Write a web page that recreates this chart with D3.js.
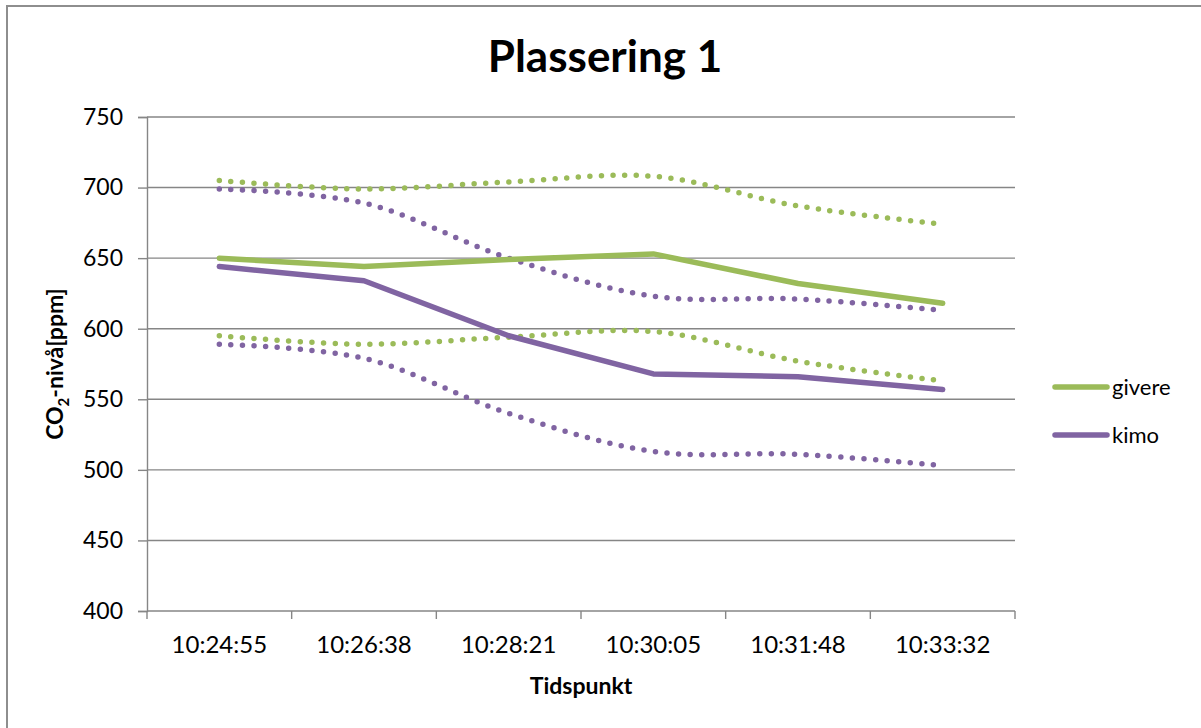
<!DOCTYPE html>
<html>
<head>
<meta charset="utf-8">
<script src="https://cdn.jsdelivr.net/npm/d3@7"></script>
<style>
  html, body { margin: 0; padding: 0; background: #fff; }
  svg { display: block; font-family: Lato, "Open Sans", sans-serif; }
</style>
</head>
<body>
<svg id="chart" width="1201" height="728"></svg>
<script>
// Measurement times
const categories = ["10:24:55", "10:26:38", "10:28:21", "10:30:05", "10:31:48", "10:33:32"];

// CO2 readings (ppm)
const givere = [650, 644, 649, 653, 632, 618];
const kimo   = [644, 634, 595, 568, 566, 557];

// Uncertainty bands drawn as dotted curves
const givereUpper = [705, 699, 704, 708, 687, 674];
const givereLower = [595, 589, 594, 598, 577, 563];
const kimoUpper   = [699, 689, 650, 623, 621, 613];
const kimoLower   = [589, 579, 540, 513, 511, 503];

const yTicks = [400, 450, 500, 550, 600, 650, 700, 750];

const seriesNames = ["givere", "kimo"];
const colors = { givere: "#9BBB59", kimo: "#8064A2" };

const svg = d3.select("#chart");
const plot = { left: 147, right: 1015, top: 117, bottom: 611 };
const gridColor = "#868686";

// Outer chart frame
svg.append("rect")
  .attr("x", 7).attr("y", 6)
  .attr("width", 1400).attr("height", 1000)
  .attr("fill", "none").attr("stroke", "#8e8e8e").attr("stroke-width", 2);

const x = d3.scaleBand().domain(categories).range([plot.left, plot.right]).padding(0);
const y = d3.scaleLinear().domain([400, 750]).range([plot.bottom, plot.top]);
const cx = c => x(c) + x.bandwidth() / 2;

// Horizontal gridlines
svg.append("g")
  .selectAll("line")
  .data(yTicks.filter(t => t !== 400))
  .join("line")
  .attr("x1", plot.left).attr("x2", plot.right)
  .attr("y1", d => y(d)).attr("y2", d => y(d))
  .attr("stroke", gridColor).attr("stroke-width", 1.4);

// Y axis
const yAxis = d3.axisLeft(y).tickValues(yTicks).tickSize(9).tickPadding(15);
const gy = svg.append("g").attr("transform", `translate(${plot.left},0)`).call(yAxis);
gy.select(".domain").attr("stroke", gridColor).attr("stroke-width", 1.4);
gy.selectAll(".tick line").attr("stroke", gridColor).attr("stroke-width", 1.4);
gy.selectAll(".tick text")
  .attr("font-size", 23).attr("fill", "#000")
  .style("font-family", "Lato, sans-serif");

// X axis: ticks sit on category boundaries
const gx = svg.append("g");
gx.append("line")
  .attr("x1", plot.left).attr("x2", plot.right)
  .attr("y1", plot.bottom).attr("y2", plot.bottom)
  .attr("stroke", gridColor).attr("stroke-width", 1.4);
const boundaries = categories.map(c => x(c)).concat([plot.right]);
gx.selectAll("line.tick")
  .data(boundaries)
  .join("line")
  .attr("class", "tick")
  .attr("x1", d => d).attr("x2", d => d)
  .attr("y1", plot.bottom).attr("y2", plot.bottom + 8)
  .attr("stroke", gridColor).attr("stroke-width", 1.4);
gx.selectAll("text")
  .data(categories)
  .join("text")
  .attr("x", d => cx(d))
  .attr("y", 653)
  .attr("text-anchor", "middle")
  .attr("font-size", 24)
  .attr("fill", "#000")
  .text(d => d);

// Dotted band curves
const bandLine = d3.line()
  .x((d, i) => cx(categories[i]))
  .y(d => y(d))
  .curve(d3.curveCatmullRom.alpha(0.5));

const bands = [
  { values: givereUpper, color: colors.givere },
  { values: givereLower, color: colors.givere },
  { values: kimoUpper, color: colors.kimo },
  { values: kimoLower, color: colors.kimo }
];
svg.append("g")
  .selectAll("path")
  .data(bands)
  .join("path")
  .attr("d", d => bandLine(d.values))
  .attr("fill", "none")
  .attr("stroke", d => d.color)
  .attr("stroke-width", 5.5)
  .attr("stroke-linecap", "round")
  .attr("stroke-dasharray", "0 11.6");

// Main series lines
const mainLine = d3.line()
  .x((d, i) => cx(categories[i]))
  .y(d => y(d));

const series = [
  { name: "givere", values: givere },
  { name: "kimo", values: kimo }
];
svg.append("g")
  .selectAll("path")
  .data(series)
  .join("path")
  .attr("d", d => mainLine(d.values))
  .attr("fill", "none")
  .attr("stroke", d => colors[d.name])
  .attr("stroke-width", 5.5)
  .attr("stroke-linecap", "round")
  .attr("stroke-linejoin", "round");

// Legend
const legend = svg.append("g");
const legendY = d3.scaleOrdinal().domain(seriesNames).range([387, 435]);
seriesNames.forEach(name => {
  legend.append("line")
    .attr("x1", 1055).attr("x2", 1107)
    .attr("y1", legendY(name)).attr("y2", legendY(name))
    .attr("stroke", colors[name]).attr("stroke-width", 5.5)
    .attr("stroke-linecap", "round");
  legend.append("text")
    .attr("x", 1112).attr("y", legendY(name) + 8)
    .attr("font-size", 22).attr("fill", "#000")
    .text(name);
});

// Title
svg.append("text")
  .attr("x", 605).attr("y", 72)
  .attr("text-anchor", "middle")
  .attr("font-size", 44).attr("font-weight", "bold")
  .attr("fill", "#000")
  .text("Plassering 1");

// Axis titles
svg.append("text")
  .attr("x", 581).attr("y", 694)
  .attr("text-anchor", "middle")
  .attr("font-size", 23).attr("font-weight", "bold")
  .attr("fill", "#000")
  .text("Tidspunkt");

const yTitle = svg.append("text")
  .attr("transform", `translate(63,${(plot.top + plot.bottom) / 2}) rotate(-90)`)
  .attr("text-anchor", "middle")
  .attr("font-size", 23).attr("font-weight", "bold")
  .attr("fill", "#000");
yTitle.append("tspan").text("CO");
yTitle.append("tspan").attr("font-size", 15).attr("dy", 6).text("2");
yTitle.append("tspan").attr("dy", -6).text("-nivå[ppm]");
</script>
</body>
</html>
